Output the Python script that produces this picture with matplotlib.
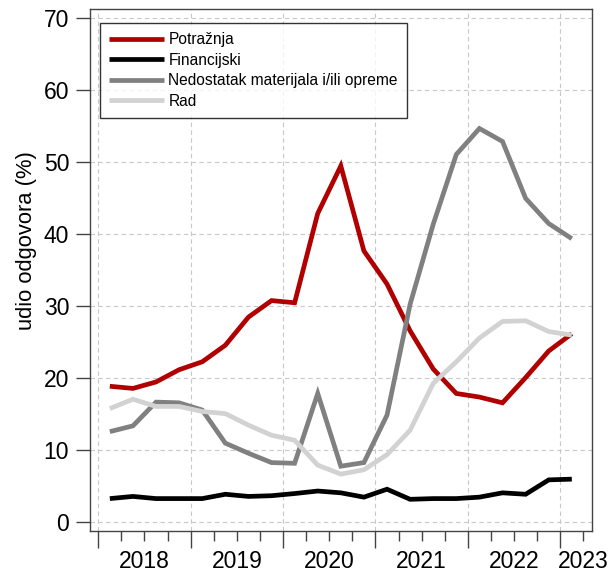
import matplotlib
matplotlib.use("Agg")
import matplotlib.pyplot as plt
import numpy as np

plt.rcParams['font.family'] = ['Liberation Sans', 'DejaVu Sans']

# kvartali 2018Q1 - 2023Q1
years = ["2018", "2019", "2020", "2021", "2022", "2023"]
potraznja = [18.8, 18.5, 19.4, 21.1, 22.2, 24.5, 28.4, 30.7, 30.4, 42.8, 49.4,
             37.6, 33.0, 26.5, 21.2, 17.8, 17.3, 16.5, 20.0, 23.7, 26.1]
financijski = [3.2, 3.5, 3.2, 3.2, 3.2, 3.8, 3.5, 3.6, 3.9, 4.25, 4.0,
               3.4, 4.5, 3.1, 3.2, 3.2, 3.4, 4.0, 3.8, 5.8, 5.9]
materijal = [12.5, 13.3, 16.6, 16.5, 15.5, 10.9, 9.5, 8.2, 8.1, 17.8, 7.7,
             8.2, 14.8, 30.2, 41.3, 51.0, 54.6, 52.8, 44.9, 41.4, 39.3]
rad = [15.7, 17.0, 16.0, 16.0, 15.3, 15.0, 13.4, 12.0, 11.3, 7.85, 6.6,
       7.2, 9.3, 12.7, 19.2, 22.2, 25.5, 27.8, 27.9, 26.4, 25.9]

labels = ["Potražnja", "Financijski", "Nedostatak materijala i/ili opreme", "Rad"]
colors = ["#B00000", "#000000", "#808080", "#D2D2D2"]


def main():
    fig = plt.figure(figsize=(6.12, 5.72), dpi=100)
    ax = fig.add_axes([0.147, 0.0717, 0.8198, 0.9126])

    x = np.arange(len(potraznja)) + 0.5
    series = [potraznja, financijski, materijal, rad]
    for vals, lab, col in zip(series, labels, colors):
        ax.plot(x, vals, color=col, lw=3.4, label=lab,
                solid_joinstyle="miter", solid_capstyle="butt")

    ax.set_xlim(-0.36, 21.36)
    ax.set_ylim(-1.3, 71.2)
    ax.set_yticks(range(0, 80, 10))
    ax.set_xticks(range(0, 21, 4))
    ax.set_xticks(range(0, 22), minor=True)
    ax.set_xticklabels([])
    ax.tick_params(axis="y", labelsize=16.5, length=10, width=1, color="#444444", pad=5)
    ax.tick_params(axis="x", which="major", length=12, width=1, color="#444444")
    ax.tick_params(axis="x", which="minor", length=7, width=1, color="#444444")

    # godine ispod osi, između glavnih oznaka
    for i, yr in enumerate(years):
        xc = i * 4 + 2 if i < 5 else 21.0
        ax.text(xc, -0.036, yr, transform=ax.get_xaxis_transform(),
                ha="center", va="top", fontsize=16.5)

    ax.grid(True, which="major", color="#C8C8C8", ls=(0, (4, 3)), lw=0.8)
    for s in ax.spines.values():
        s.set_color("#444444")
        s.set_linewidth(1)

    ax.set_ylabel("udio odgovora (%)", fontsize=15.8)
    ax.yaxis.set_label_coords(-0.106, 0.556)

    leg = ax.legend(loc="upper left", bbox_to_anchor=(0.02, 0.973), fontsize=11.2,
                    frameon=True, fancybox=False, borderaxespad=0,
                    handlelength=3.5, handletextpad=0.3, labelspacing=0.35,
                    borderpad=0.6)
    leg.get_frame().set_edgecolor("black")
    leg.get_frame().set_linewidth(1)

    fig.savefig("out.png", dpi=100)


if __name__ == "__main__":
    main()
